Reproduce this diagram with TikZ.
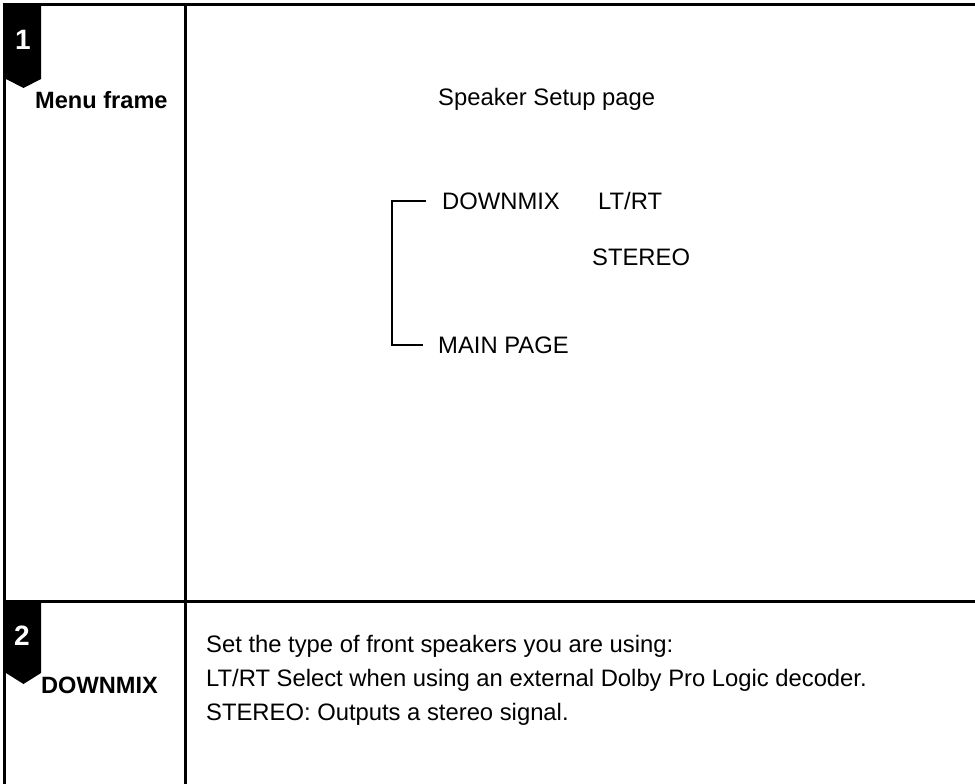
\documentclass[tikz,border=0pt]{standalone}
\usepackage{fontspec}
\setmainfont{Liberation Sans}
\usetikzlibrary{positioning}

\begin{document}
\begin{tikzpicture}[x=1pt, y=-1pt, inner sep=0pt,
  font=\fontsize{23.8}{28}\selectfont,
  rule/.style={line width=3pt},
  bracket/.style={line width=2.5pt},
  txt/.style={anchor=base west},
  head/.style={anchor=base west, font=\fontsize{23.6}{28}\selectfont\bfseries},
  num/.style={anchor=base west, text=white, font=\fontsize{28}{32}\selectfont\bfseries}]
\useasboundingbox (0,0) rectangle (975,784);

% frame
\draw[rule] (975,4.5) -- (4.5,4.5) -- (4.5,784);
\draw[rule] (185.5,4.5) -- (185.5,784);
\draw[rule] (4.5,601) -- (975,601);

% step badges
\fill (6,5) -- (41,5) -- (41,79) -- (23.5,88) -- (6,79) -- cycle;
\fill (6,602) -- (41,602) -- (41,673) -- (23.5,684) -- (6,673) -- cycle;
\node[num] (n1) at (15,50) {1};
\node[num] (n2) at (14,645) {2};

\node[head] (menu) at (35,108) {Menu frame};
\node[head] (dmhead) at (41,693) {DOWNMIX};

% menu frame
\node[txt] (page) at (438,105) {Speaker Setup page};
\node[txt] (dm) at (442,209) {DOWNMIX};
\node[txt] (ltrt) at (598,209) {LT/RT};
\node[txt] (stereo) at (592,265) {STEREO};
\node[txt] (mp) at (438,353) {MAIN PAGE};
\draw[bracket] ([xshift=-16pt]dm.west) -- ++(-34,0) |- ([xshift=-15pt]mp.west);

% description
\node[txt] (d1) at (206,652) {Set the type of front speakers you are using:};
\node[txt] (d2) at (206,686) {LT/RT Select when using an external Dolby Pro Logic decoder.};
\node[txt] (d3) at (206,720) {STEREO: Outputs a stereo signal.};
\end{tikzpicture}
\end{document}
